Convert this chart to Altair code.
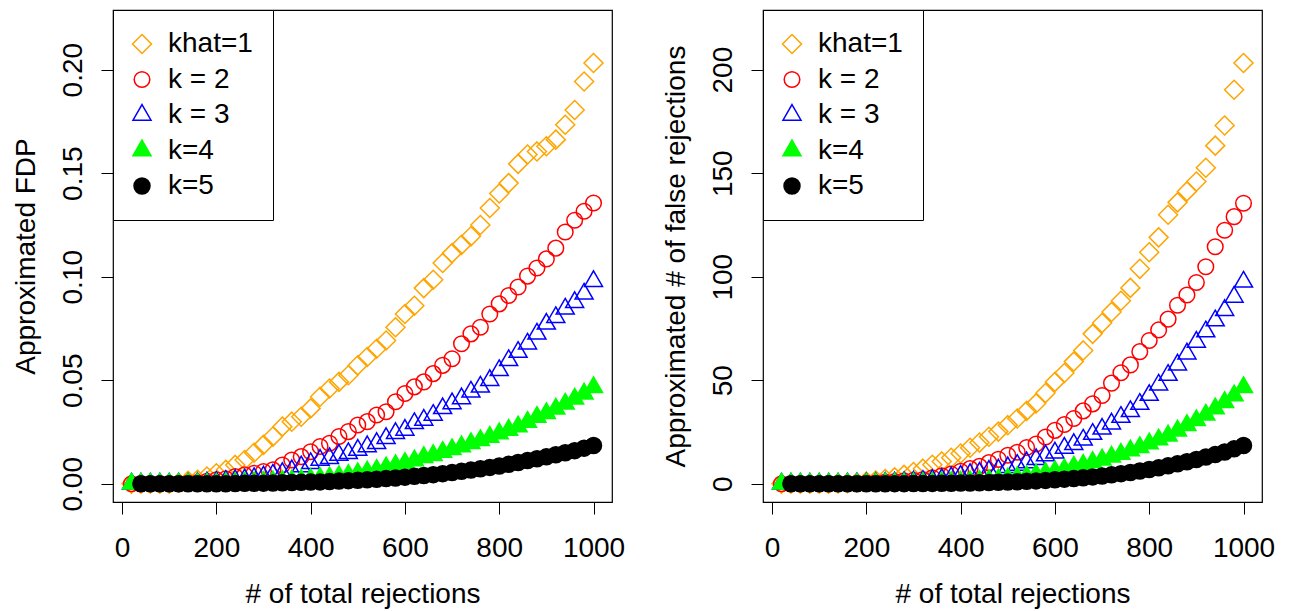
import altair as alt
import pandas as pd

FONT = "Liberation Sans"

# x positions (number of total rejections)
X_ALL = [20, 40, 60, 80, 100, 120, 140, 160, 180, 200,
         220, 240, 260, 280, 300, 320, 340, 360, 380, 400,
         420, 440, 460, 480, 500, 520, 540, 560, 580, 600,
         620, 640, 660, 680, 700, 720, 740, 760, 780, 800,
         820, 840, 860, 880, 900, 920, 940, 960, 980, 1000]
X_K5 = X_ALL[1:]

LABELS = ["khat=1", "k = 2", "k = 3", "k=4", "k=5"]
STROKES = ["#FFA500", "#FF0000", "#0000FF", "#00FF00", "#000000"]
FILLS = ["transparent", "transparent", "transparent", "#00FF00", "#000000"]

# ---- left panel: approximated FDP ----
FDP_K1 = [0, 0, 0, 0, 0, 0.0005, 0.0014, 0.0019, 0.0035, 0.0051,
          0.0067, 0.0091, 0.0115, 0.015, 0.0188, 0.0228, 0.0276, 0.030, 0.0324, 0.0364,
          0.042, 0.046, 0.0492, 0.0524, 0.0572, 0.0612, 0.0652, 0.0692, 0.0756, 0.082,
          0.086, 0.0945, 0.0985, 0.1066, 0.1114, 0.1154, 0.1195, 0.125, 0.1332, 0.1402,
          0.1452, 0.1545, 0.159, 0.1605, 0.163, 0.1662, 0.1734, 0.1805, 0.1943, 0.2032]
FDP_K2 = [0, 0, 0, 0, 0, 0, 0.0003, 0.0006, 0.0012, 0.0019,
          0.0024, 0.0035, 0.0043, 0.0051, 0.0059, 0.0067, 0.0091, 0.0115, 0.0131, 0.0155,
          0.018, 0.0196, 0.0228, 0.0252, 0.0284, 0.030, 0.0332, 0.0348, 0.0396, 0.0436,
          0.0468, 0.0492, 0.0532, 0.0572, 0.0604, 0.0676, 0.0724, 0.0756, 0.082, 0.0869,
          0.0909, 0.095, 0.1003, 0.1042, 0.1086, 0.1138, 0.1216, 0.1273, 0.1316, 0.1356]
FDP_K3 = [0, 0, 0, 0, 0, 0, 0, 0.0003, 0.0005, 0.0008,
          0.0013, 0.0016, 0.002, 0.0026, 0.0034, 0.0043, 0.0051, 0.0064, 0.0083, 0.0099,
          0.0115, 0.0123, 0.0139, 0.0147, 0.0163, 0.018, 0.0196, 0.022, 0.0244, 0.026,
          0.0292, 0.0308, 0.0332, 0.0364, 0.0388, 0.0412, 0.0444, 0.0468, 0.050, 0.0548,
          0.0596, 0.0636, 0.0676, 0.0724, 0.0772, 0.0804, 0.0845, 0.0877, 0.0917, 0.0978]
FDP_K4 = [0, 0, 0, 0, 0, 0, 0, 0, 0, 0,
          0.0002, 0.0003, 0.0004, 0.0006, 0.0008, 0.001, 0.0012, 0.0015, 0.0018, 0.0022,
          0.0026, 0.003, 0.0036, 0.0042, 0.005, 0.0058, 0.0066, 0.0078, 0.0089, 0.0100,
          0.0112, 0.0128, 0.0138, 0.0153, 0.0166, 0.018, 0.0195, 0.021, 0.0226, 0.0243,
          0.026, 0.0276, 0.0298, 0.0322, 0.034, 0.0362, 0.0386, 0.041, 0.0435, 0.0466]
FDP_K5 = [0, 0, 0, 0, 0, 0, 0, 0, 0, 0,
          0.0001, 0.0002, 0.0002, 0.0003, 0.0004, 0.0005, 0.0006, 0.0007, 0.0008, 0.0009,
          0.0011, 0.0013, 0.0015, 0.0017, 0.0019, 0.0022, 0.0025, 0.0028, 0.0032, 0.0036,
          0.004, 0.0044, 0.0049, 0.0054, 0.006, 0.0066, 0.0072, 0.0079, 0.0086, 0.0094,
          0.0103, 0.0112, 0.0121, 0.013, 0.014, 0.015, 0.016, 0.0172, 0.0185]

# ---- right panel: approximated # of false rejections ----
V_K1 = [0, 0, 0, 0, 0, 0.1, 0.2, 0.3, 0.6, 1.1,
        1.6, 2.3, 3.1, 4.3, 5.7, 7.3, 9.2, 10.8, 12.6, 14.6,
        17.4, 19.9, 22.7, 25.2, 28.3, 31.5, 35.2, 38.8, 43.8, 49.2,
        53.5, 59.0, 64.4, 72.4, 77.6, 83.0, 88.4, 94.6, 103.8, 111.8,
        119.0, 129.9, 135.9, 141.2, 146.0, 152.6, 163.3, 173.0, 190.3, 203.2]
V_K2 = [0, 0, 0, 0, 0, 0, 0.05, 0.1, 0.2, 0.4,
        0.5, 0.8, 1.1, 1.4, 1.7, 2.0, 2.9, 3.9, 4.7, 6.0,
        7.3, 8.4, 10.2, 11.8, 13.8, 15.2, 17.5, 19.2, 22.6, 25.8,
        28.6, 31.5, 35.2, 38.6, 42.6, 48.6, 53.6, 57.4, 63.8, 69.2,
        74.3, 79.5, 86.2, 91.2, 97.2, 104.8, 114.5, 122.4, 129.0, 135.5]
V_K3 = [0, 0, 0, 0, 0, 0, 0, 0.05, 0.1, 0.15,
        0.3, 0.4, 0.5, 0.7, 1.0, 1.3, 1.7, 2.2, 3.0, 3.8,
        4.6, 5.2, 6.2, 6.8, 7.9, 9.0, 10.3, 11.8, 13.6, 15.0,
        17.3, 19.1, 21.2, 24.0, 26.5, 29.0, 32.2, 35.0, 38.5, 42.8,
        47.8, 52.5, 57.5, 62.8, 68.5, 73.5, 78.8, 83.8, 90.2, 97.5]
V_K4 = [0, 0, 0, 0, 0, 0, 0, 0, 0, 0,
        0.05, 0.07, 0.1, 0.17, 0.24, 0.32, 0.41, 0.54, 0.68, 0.88,
        1.09, 1.32, 1.66, 2.02, 2.5, 3.02, 3.56, 4.37, 5.16, 6.0,
        6.94, 8.19, 9.1, 10.4, 11.6, 13.0, 14.4, 16.0, 17.6, 19.4,
        21.3, 23.2, 25.6, 28.3, 30.6, 33.3, 36.3, 39.4, 42.6, 46.6]
V_K5 = [0, 0, 0, 0, 0, 0, 0, 0, 0, 0,
        0.02, 0.05, 0.06, 0.09, 0.13, 0.17, 0.22, 0.27, 0.32, 0.38,
        0.48, 0.6, 0.72, 0.85, 0.99, 1.19, 1.4, 1.62, 1.92, 2.23,
        2.56, 2.9, 3.33, 3.78, 4.32, 4.88, 5.47, 6.16, 6.88, 7.71,
        8.65, 9.63, 10.65, 11.7, 12.88, 14.1, 15.36, 16.86, 18.5]

# R-like plotting symbols (custom paths in the unit square, scaled by the mark size)
DIAMOND = "M0,-0.95L0.95,0L0,0.95L-0.95,0Z"
OPEN_CIRCLE = "M0.78,0A0.78,0.78,0,1,1,-0.78,0A0.78,0.78,0,1,1,0.78,0Z"
TRIANGLE = "M0,-1.04L0.9,0.52L-0.9,0.52Z"
DOT = "M0.8,0A0.8,0.8,0,1,1,-0.8,0A0.8,0.8,0,1,1,0.8,0Z"
SHAPES = [DIAMOND, OPEN_CIRCLE, TRIANGLE, TRIANGLE, DOT]


def build_frame(series_y):
    rows = []
    for label, ys in zip(LABELS, series_y):
        xs = X_K5 if len(ys) == len(X_K5) else X_ALL
        for x, y in zip(xs, ys):
            rows.append({"x": x, "y": y, "series": label})
    return pd.DataFrame(rows)


left_df = build_frame([FDP_K1, FDP_K2, FDP_K3, FDP_K4, FDP_K5])
right_df = build_frame([V_K1, V_K2, V_K3, V_K4, V_K5])

W, H = 499, 492
X_DOMAIN = [-19.2, 1039.2]

legend = alt.Legend(
    title=None, orient="top-left", offset=0, padding=20,
    labelFont=FONT, labelFontSize=28, labelColor="black",
    symbolSize=400, symbolStrokeWidth=1.5, symbolOffset=-5,
    rowPadding=7.5, labelOffset=12,
    strokeColor="black", fillColor="white", cornerRadius=0,
)


def x_axis():
    return alt.Axis(
        values=[0, 200, 400, 600, 800, 1000], title="# of total rejections", format="d",
        grid=False, domain=False, tickSize=12, tickColor="black", tickWidth=1,
        labelFont=FONT, labelFontSize=28, labelColor="black", labelPadding=20,
        labelFlush=False, labelOverlap=False,
        titleFont=FONT, titleFontSize=28, titleFontWeight="normal",
        titleColor="black", titlePadding=18,
    )


def y_axis(values, title, fmt):
    return alt.Axis(
        values=values, title=title, format=fmt,
        grid=False, domain=False, tickSize=12, tickColor="black", tickWidth=1,
        labelFont=FONT, labelFontSize=28, labelColor="black",
        labelAngle=270, labelAlign="center", labelBaseline="bottom", labelPadding=14,
        labelFlush=False, labelOverlap=False,
        titleFont=FONT, titleFontSize=28, titleFontWeight="normal",
        titleColor="black", titlePadding=19,
    )


def panel(df, y_domain, y_values, y_title, fmt):
    return alt.Chart(df).mark_point(size=400, strokeWidth=1.5, opacity=1).encode(
        x=alt.X("x:Q", scale=alt.Scale(domain=X_DOMAIN, nice=False, zero=False), axis=x_axis()),
        y=alt.Y("y:Q", scale=alt.Scale(domain=y_domain, nice=False, zero=False),
                axis=y_axis(y_values, y_title, fmt)),
        shape=alt.Shape("series:N", scale=alt.Scale(domain=LABELS, range=SHAPES), legend=legend),
        stroke=alt.Stroke("series:N", scale=alt.Scale(domain=LABELS, range=STROKES), legend=legend),
        fill=alt.Fill("series:N", scale=alt.Scale(domain=LABELS, range=FILLS), legend=legend),
    ).properties(width=W, height=H)


left = panel(left_df, [-0.0088, 0.2288], [0, 0.05, 0.10, 0.15, 0.20], "Approximated FDP", ".2f")
right = panel(right_df, [-8.8, 228.8], [0, 50, 100, 150, 200], "Approximated # of false rejections", "d")

chart = alt.hconcat(left, right, spacing=35).resolve_scale(
    shape="independent", stroke="independent", fill="independent"
).properties(
    padding={"left": 3, "top": 0, "right": 5, "bottom": 2},
    background="white",
).configure_view(stroke="#000000", strokeWidth=1.2)

chart.save("out.html", embed_options={"renderer": "svg", "actions": False})
